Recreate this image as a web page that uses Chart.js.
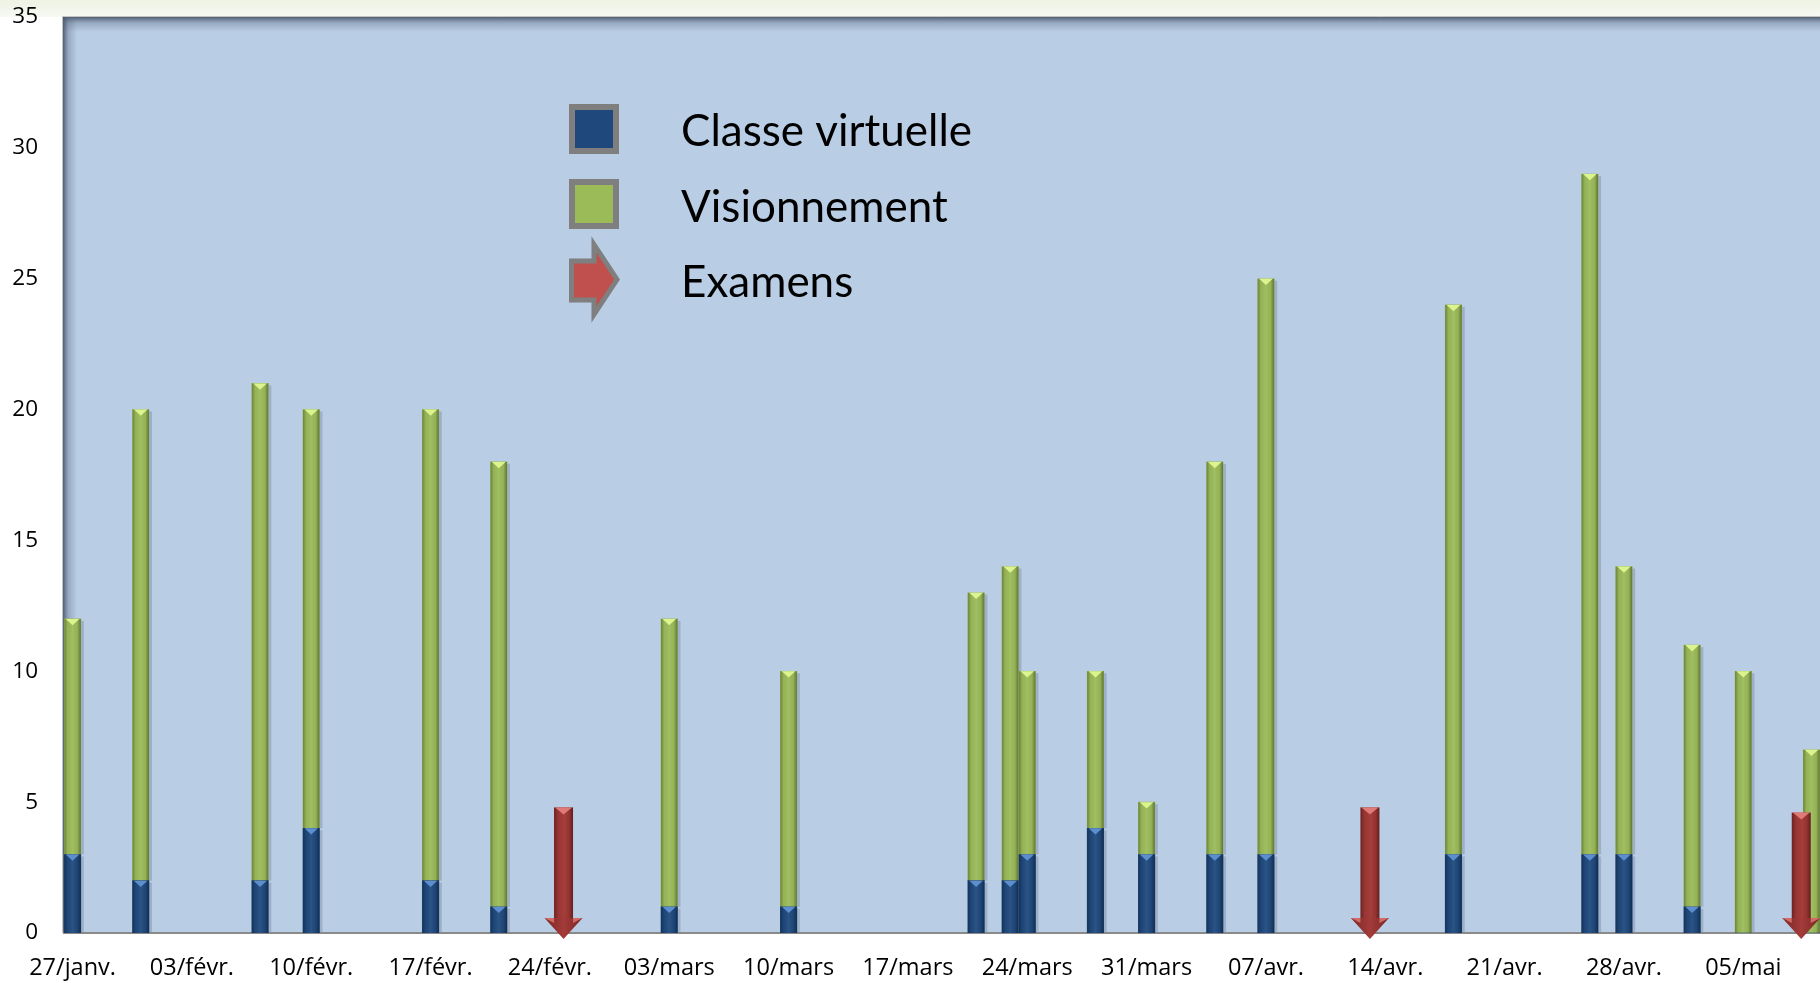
<!DOCTYPE html>
<html><head><meta charset="utf-8">
<script src="https://cdn.jsdelivr.net/npm/chart.js@4"></script>
<style>html,body{margin:0;padding:0;background:#fff;overflow:hidden}canvas{display:block}</style>
</head><body>
<canvas id="c" width="1820" height="983"></canvas>
<script>
// ---- data (day 0 = 27/janv.) ----
const weekLabels = ['27/janv.','03/févr.','10/févr.','17/févr.','24/févr.','03/mars','10/mars','17/mars','24/mars','31/mars','07/avr.','14/avr.','21/avr.','28/avr.','05/mai'];
const sessionDays = [0,4,11,14,21,25,35,42,53,55,56,60,63,67,70,81,89,91,95,98,102];
const classeVirtuelle = [3,2,2,4,2,1,1,1,2,2,3,4,3,3,3,3,3,3,1,0,0];
const visionnement = [9,18,19,16,18,17,11,9,11,12,7,6,2,15,22,21,26,11,10,10,7];
const examDays = [28.8,76.1,101.4];
const examens = [4.8,4.8,4.6];
const seriesNames = ['Classe virtuelle','Visionnement','Examens'];
const yTicks = [0,5,10,15,20,25,30,35];

const BLUE = '#1f497d', GREEN = '#9bbb59';
const X_FONT = {family:'Open Sans', size:23.5};
const Y_FONT = {family:'Open Sans', size:22.5};

const pts = (xs, ys) => xs.map((x,i)=>({x, y: ys[i]}));

const backgroundPlugin = {
  id:'bgPlugin',
  beforeDraw(chart){
    const {ctx, chartArea:a, width, height} = chart;
    ctx.save();
    ctx.fillStyle = '#ffffff'; ctx.fillRect(0,0,width,height);
    let g = ctx.createLinearGradient(0,0,0,a.top);
    g.addColorStop(0,'#eef3e4'); g.addColorStop(1,'#f7f9f2');
    ctx.fillStyle = g; ctx.fillRect(0,0,width,a.top);
    ctx.fillStyle = '#b9cde5';
    ctx.fillRect(a.left, a.top, a.right-a.left, a.bottom-a.top);
    g = ctx.createLinearGradient(0,a.top,0,a.top+15);
    g.addColorStop(0,'rgba(70,82,102,0.9)'); g.addColorStop(0.4,'rgba(90,105,130,0.35)'); g.addColorStop(1,'rgba(90,105,130,0)');
    ctx.fillStyle = g; ctx.fillRect(a.left, a.top, a.right-a.left, 15);
    g = ctx.createLinearGradient(a.left,0,a.left+14,0);
    g.addColorStop(0,'rgba(70,82,102,0.9)'); g.addColorStop(0.4,'rgba(90,105,130,0.35)'); g.addColorStop(1,'rgba(90,105,130,0)');
    ctx.fillStyle = g; ctx.fillRect(a.left, a.top, 14, a.bottom-a.top);
    ctx.strokeStyle = '#c4c4c4'; ctx.lineWidth = 1;
    ctx.beginPath(); ctx.moveTo(a.left-0.5, a.bottom); ctx.lineTo(a.left-0.5, a.top-0.5); ctx.lineTo(a.right, a.top-0.5); ctx.stroke();
    ctx.restore();
  },
  beforeDatasetsDraw(chart){
    const {ctx, chartArea:a} = chart;
    const y0 = chart.scales.y.getPixelForValue(0);
    ctx.save();
    ctx.fillStyle = 'rgba(60,75,100,0.22)';
    [0,1].forEach(di => chart.getDatasetMeta(di).data.forEach(el => {
      const {x,y,base,width} = el.getProps(['x','y','base','width'], true);
      const top = Math.min(y,base), h = Math.abs(base-y);
      if (h < 0.5) return;
      ctx.fillRect(x+width/2, top+2, 3, h-2);
    }));
    ctx.strokeStyle = '#8a8a8a'; ctx.lineWidth = 2;
    ctx.beginPath(); ctx.moveTo(a.left, y0); ctx.lineTo(a.right, y0); ctx.stroke();
    ctx.restore();
  },
  afterDatasetsDraw(chart){
    const {ctx} = chart;
    ctx.save();
    const lights = ['#5d8fcf','#dcf48e'];
    [0,1].forEach(di => chart.getDatasetMeta(di).data.forEach(el => {
      const {x,y,base,width} = el.getProps(['x','y','base','width'], true);
      const top = Math.min(y,base), h = Math.abs(base-y);
      if (h < 0.5) return;
      const l = x-width/2, r = x+width/2;
      const g = ctx.createLinearGradient(l,0,r,0);
      g.addColorStop(0,'rgba(0,0,0,0.30)'); g.addColorStop(0.2,'rgba(0,0,0,0.04)');
      g.addColorStop(0.5,'rgba(255,255,255,0.06)'); g.addColorStop(0.78,'rgba(0,0,0,0.04)');
      g.addColorStop(1,'rgba(0,0,0,0.38)');
      ctx.fillStyle = g; ctx.fillRect(l, top, width, h);
      ctx.fillStyle = lights[di];
      ctx.beginPath(); ctx.moveTo(l+1.5, top); ctx.lineTo(r-1.5, top); ctx.lineTo(x, top+Math.min(h, width*0.38)); ctx.closePath(); ctx.fill();
    }));
    // exam arrows
    chart.getDatasetMeta(2).data.forEach(el => {
      const {x,y,base,width} = el.getProps(['x','y','base','width'], true);
      const sw = 19, hw = width, headTop = base-15, tip = base+6;
      const l = x-sw/2, r = x+sw/2;
      let g = ctx.createLinearGradient(l,0,r,0);
      g.addColorStop(0,'#6c2220'); g.addColorStop(0.22,'#973634'); g.addColorStop(0.55,'#a53d3b');
      g.addColorStop(0.8,'#923331'); g.addColorStop(1,'#641e1c');
      ctx.fillStyle = g; ctx.fillRect(l, y, sw, headTop-y);
      ctx.fillStyle = '#e07a77';
      ctx.beginPath(); ctx.moveTo(l+1,y); ctx.lineTo(r-1,y); ctx.lineTo(x,y+7); ctx.closePath(); ctx.fill();
      g = ctx.createLinearGradient(x-hw/2,0,x+hw/2,0);
      g.addColorStop(0,'#7a2725'); g.addColorStop(0.5,'#a33b39'); g.addColorStop(1,'#7a2725');
      ctx.fillStyle = g;
      ctx.beginPath(); ctx.moveTo(x-hw/2, headTop); ctx.lineTo(x+hw/2, headTop); ctx.lineTo(x, tip); ctx.closePath(); ctx.fill();
      ctx.fillStyle = '#d26b68';
      ctx.beginPath(); ctx.moveTo(x-hw/2, headTop); ctx.lineTo(l, headTop); ctx.lineTo(l, headTop+5); ctx.closePath(); ctx.fill();
      ctx.beginPath(); ctx.moveTo(x+hw/2, headTop); ctx.lineTo(r, headTop); ctx.lineTo(r, headTop+5); ctx.closePath(); ctx.fill();
    });
    ctx.restore();
  },
  afterDraw(chart){
    const {ctx} = chart;
    ctx.save();
    const lx = 569, size = 50, rows = [104, 179, 242];
    [[BLUE,rows[0]],[GREEN,rows[1]]].forEach(([c,ty]) => {
      ctx.fillStyle = '#7f7f7f'; ctx.fillRect(lx, ty, size, size);
      ctx.fillStyle = c; ctx.fillRect(lx+6, ty+6, size-12, size-12);
    });
    const ay = rows[2];
    ctx.beginPath();
    ctx.moveTo(lx+2.5, ay+19); ctx.lineTo(lx+25, ay+19); ctx.lineTo(lx+25, ay+2.5);
    ctx.lineTo(lx+size-2, ay+37.5); ctx.lineTo(lx+25, ay+72.5); ctx.lineTo(lx+25, ay+58);
    ctx.lineTo(lx+2.5, ay+58); ctx.closePath();
    ctx.fillStyle = '#c0504d'; ctx.fill();
    ctx.lineWidth = 5; ctx.strokeStyle = '#7f7f7f'; ctx.lineJoin = 'miter'; ctx.stroke();
    ctx.fillStyle = '#000000';
    ctx.font = '44px Lato';
    ctx.textAlign = 'left'; ctx.textBaseline = 'alphabetic';
    const base = [146, 222, 297];
    seriesNames.forEach((n,i) => ctx.fillText(n, 681, base[i]));
    ctx.restore();
  }
};

const zeroPad = s => { s.paddingTop = 0; s.paddingBottom = 0; s.paddingLeft = 0; s.paddingRight = 0; };

new Chart(document.getElementById('c'), {
  type:'bar',
  data:{
    datasets:[
      {label:seriesNames[0], data:pts(sessionDays, classeVirtuelle), backgroundColor:BLUE, stack:'s', grouped:false, barThickness:16.5},
      {label:seriesNames[1], data:pts(sessionDays, visionnement), backgroundColor:GREEN, stack:'s', grouped:false, barThickness:16.5},
      {label:seriesNames[2], data:pts(examDays, examens), backgroundColor:'rgba(0,0,0,0)', stack:'e', grouped:false, barThickness:38}
    ]
  },
  plugins:[backgroundPlugin],
  options:{
    responsive:false, animation:false, devicePixelRatio:1,
    layout:{padding:{top:17, left:0, right:0, bottom:0}},
    plugins:{legend:{display:false}, tooltip:{enabled:false}},
    scales:{
      x:{
        type:'linear', min:-0.56, max:102.5, offset:false,
        grid:{display:false, drawTicks:false}, border:{display:false},
        afterBuildTicks: s => { s.ticks = weekLabels.map((_,i)=>({value:i*7})); },
        afterFit: s => { s.height = 50; zeroPad(s); },
        ticks:{autoSkip:false, maxRotation:0, padding:21, color:'#000', font:X_FONT,
          callback: v => weekLabels[Math.round(v/7)] ?? ''}
      },
      y:{
        stacked:true, min:0, max:35,
        grid:{display:false, drawTicks:false}, border:{display:false},
        afterBuildTicks: s => { s.ticks = yTicks.map(v=>({value:v})); },
        afterFit: s => { s.width = 63; zeroPad(s); },
        ticks:{padding:25, color:'#000', font:Y_FONT}
      }
    }
  }
});
</script>
</body></html>
